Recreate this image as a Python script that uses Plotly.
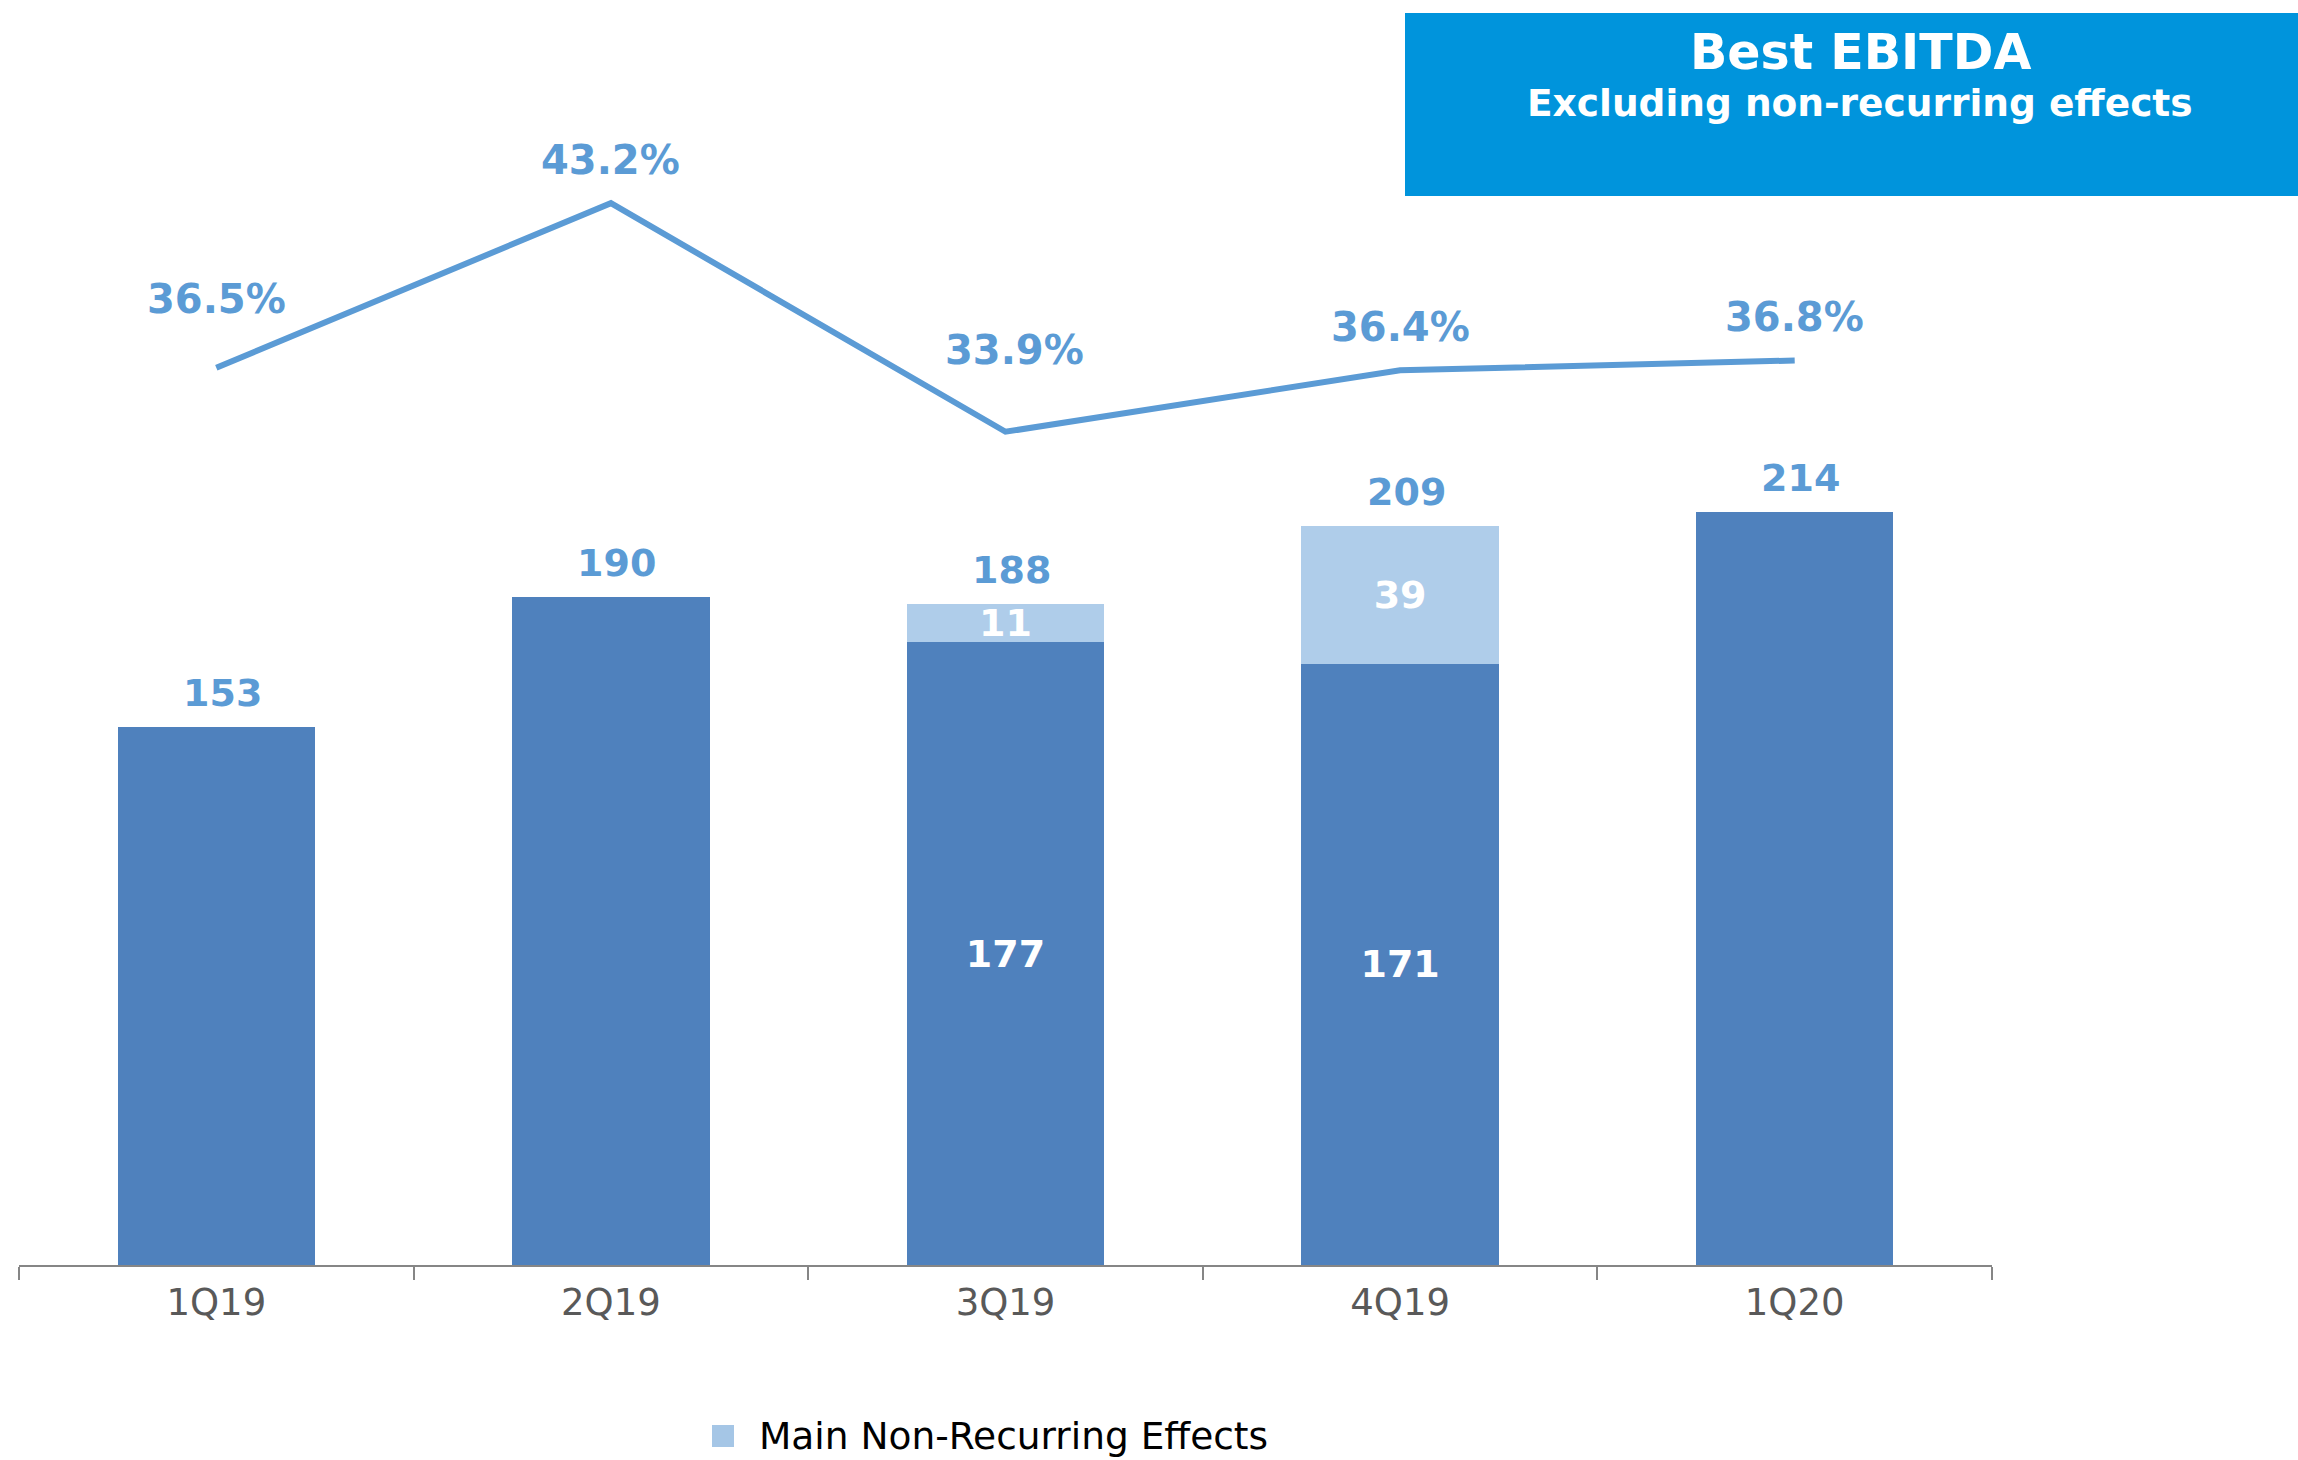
import plotly.graph_objects as go

# ---------------------------------------------------------------------------
# Data
# ---------------------------------------------------------------------------
quarters = ["1Q19", "2Q19", "3Q19", "4Q19", "1Q20"]
ebitda_base = [153, 190, 177, 171, 214]
non_recurring = [None, None, 11, 39, None]
base_labels = ["", "", "177", "171", ""]
nre_labels = ["", "", "11", "39", ""]
total_labels = ["153", "190", "188", "209", "214"]
ebitda_margin = [36.5, 43.2, 33.9, 36.4, 36.8]
margin_labels = ["36.5%", "43.2%", "33.9%", "36.4%", "36.8%"]
legend_label = "Main Non-Recurring Effects"

# ---------------------------------------------------------------------------
# Style
# ---------------------------------------------------------------------------
W, H = 2298, 1460
M_L, M_R, M_T, M_B = 19, 306, 100, 195
PLOT_W = W - M_L - M_R
PLOT_H = H - M_T - M_B

DARK_BAR = "#4F81BD"
LIGHT_BAR = "#AFCDEA"
LINE_BLUE = "#5B9BD5"
BOX_BLUE = "#0094DC"
FONT = "DejaVu Sans, Verdana, sans-serif"

Y1_MAX = PLOT_H / 3.517      # bar axis: px per unit
Y2_MAX = PLOT_H / 24.58      # margin axis: px per percent point

pct_yshift = [66, 40, 79, 40, 40]
pct_xshift = [0, 0, 9, 0, 0]


def px_x(px):
    return (px - M_L) / PLOT_W


def px_y(py):
    return (H - M_B - py) / PLOT_H


fig = go.Figure()

# Recurring EBITDA bars
fig.add_trace(go.Bar(
    x=quarters, y=ebitda_base,
    marker=dict(color=DARK_BAR, line=dict(width=0)),
    text=base_labels, textposition="inside", insidetextanchor="middle",
    textangle=0, constraintext="none",
    textfont=dict(family=FONT, size=38, color="white", weight="bold"),
    width=0.5, showlegend=False, hoverinfo="skip",
))

# Non-recurring effects
fig.add_trace(go.Bar(
    x=quarters, y=non_recurring,
    name=legend_label,
    marker=dict(color=LIGHT_BAR, line=dict(width=0)),
    text=nre_labels, textposition="inside", insidetextanchor="middle",
    textangle=0, constraintext="none",
    textfont=dict(family=FONT, size=38, color="white", weight="bold"),
    width=0.5, showlegend=False, hoverinfo="skip",
))

# EBITDA margin line
fig.add_trace(go.Scatter(
    x=quarters, y=ebitda_margin, yaxis="y2",
    mode="lines", line=dict(color=LINE_BLUE, width=6),
    showlegend=False, hoverinfo="skip",
))

# Total labels above bars
for q, b, n, lab in zip(quarters, ebitda_base, non_recurring, total_labels):
    fig.add_annotation(
        x=q, y=b + (n or 0), xref="x", yref="y",
        text=f"<b>{lab}</b>", showarrow=False,
        xshift=6, yshift=34, yanchor="middle",
        font=dict(family=FONT, size=38, color=LINE_BLUE),
    )

# Margin labels
for q, v, lab, ys, xs in zip(quarters, ebitda_margin, margin_labels,
                             pct_yshift, pct_xshift):
    fig.add_annotation(
        x=q, y=v, xref="x", yref="y2",
        text=f"<b>{lab}</b>", showarrow=False,
        xshift=xs, yshift=ys + 3, yanchor="middle",
        font=dict(family=FONT, size=40, color=LINE_BLUE),
    )

# Title box
fig.add_shape(
    type="rect", xref="paper", yref="paper",
    x0=px_x(1405), x1=px_x(2300), y0=px_y(196), y1=px_y(13),
    fillcolor=BOX_BLUE, line=dict(width=0), layer="above",
)
fig.add_annotation(
    xref="paper", yref="paper", x=px_x(1860), y=px_y(53),
    text="<b>Best EBITDA</b>", showarrow=False,
    xanchor="center", yanchor="middle",
    font=dict(family=FONT, size=49, color="white"),
)
fig.add_annotation(
    xref="paper", yref="paper", x=px_x(1860), y=px_y(103),
    text="<b>Excluding non-recurring effects</b>", showarrow=False,
    xanchor="center", yanchor="middle",
    font=dict(family=FONT, size=37.5, color="white"),
)

# Legend (square swatch + label)
fig.add_shape(
    type="rect", xref="paper", yref="paper",
    x0=px_x(712), x1=px_x(734), y0=px_y(1447), y1=px_y(1425),
    fillcolor="#A5C6E6", line=dict(width=0),
)
fig.add_annotation(
    xref="paper", yref="paper", x=px_x(757), y=px_y(1436),
    text=legend_label, showarrow=False,
    xanchor="left", yanchor="middle",
    font=dict(family=FONT, size=37.5, color="black"),
)

fig.update_layout(
    width=W, height=H,
    margin=dict(l=M_L, r=M_R, t=M_T, b=M_B, autoexpand=False),
    barmode="stack",
    plot_bgcolor="white", paper_bgcolor="white",
    font=dict(family=FONT),
    showlegend=False,
    xaxis=dict(
        type="category", range=[-0.5, 4.5], automargin=False,
        showline=True, linecolor="#868686", linewidth=2,
        ticks="outside", tickson="boundaries", ticklen=13,
        tickcolor="#868686", tickwidth=2, ticklabelstandoff=4,
        tickfont=dict(family=FONT, size=37, color="#595959"),
        showgrid=False, zeroline=False,
    ),
    yaxis=dict(range=[0, Y1_MAX], visible=False, showgrid=False),
    yaxis2=dict(range=[0, Y2_MAX], overlaying="y", side="right",
                visible=False, showgrid=False),
)

fig.write_html("out.html", config={"displayModeBar": False},
               post_script="document.body.style.margin='0';")
